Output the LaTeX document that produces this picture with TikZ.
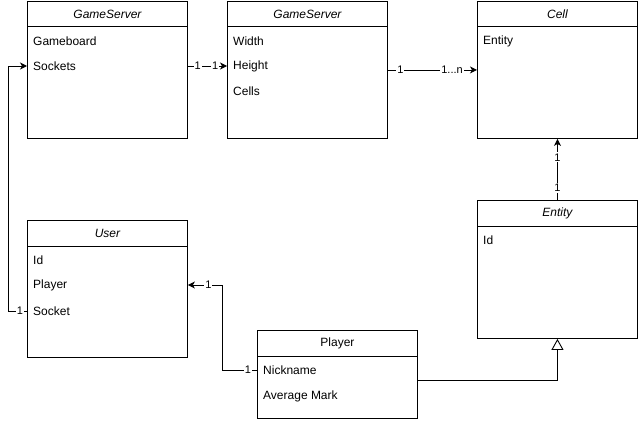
\documentclass[tikz,border=0pt]{standalone}
\usepackage{fontspec}
\setmainfont{Liberation Sans}
\usetikzlibrary{arrows.meta,calc}
\begin{document}
\begin{tikzpicture}[x=1pt,y=-1pt,
  box/.style={draw, line width=0.9pt, inner sep=0, anchor=north west, minimum width=160pt},
  attr/.style={anchor=west, inner sep=0, font=\fontsize{12}{14}\selectfont},
  head/.style={inner sep=0, font=\fontsize{12}{14}\selectfont\itshape},
  headup/.style={inner sep=0, font=\fontsize{12}{14}\selectfont},
  lbl/.style={fill=white, inner sep=1pt, font=\fontsize{11}{13}\selectfont},
  conn/.style={line width=0.9pt},
  arr/.style={conn, -{Stealth[length=7pt,width=7pt,inset=2pt]}},
  inh/.style={conn, -{Triangle[open,length=11pt,width=12pt]}},
  ]
\useasboundingbox (0,0) rectangle (639,420);

% GameServer 1
\node[box, minimum height=137pt] (gs1) at (27,1) {};
\draw[line width=0.9pt] ($(gs1.north west)+(0,25)$) -- ($(gs1.north east)+(0,25)$);
\node[head] (gs1h) at ($(gs1.north)+(0,13)$) {GameServer};
\node[attr] (gs1a) at (33,41) {Gameboard};
\node[attr] (gs1s) at (33,66) {Sockets};

% GameServer 2
\node[box, minimum height=137pt] (gs2) at (227,1) {};
\draw[line width=0.9pt] ($(gs2.north west)+(0,25)$) -- ($(gs2.north east)+(0,25)$);
\node[head] (gs2h) at ($(gs2.north)+(0,13)$) {GameServer};
\node[attr] (gs2w) at (233,41) {Width};
\node[attr] (gs2ht) at (233,66) {Height};
\node[attr] (gs2c) at (233,91) {Cells};

% Cell
\node[box, minimum height=137pt] (cell) at (477,1) {};
\draw[line width=0.9pt] ($(cell.north west)+(0,25)$) -- ($(cell.north east)+(0,25)$);
\node[head] (cellh) at ($(cell.north)+(0,13)$) {Cell};
\node[attr] (celle) at (483,41) {Entity};

% Entity
\node[box, minimum height=138pt] (ent) at (477,200) {};
\draw[line width=0.9pt] ($(ent.north west)+(0,26)$) -- ($(ent.north east)+(0,26)$);
\node[head] (enth) at ($(ent.north)+(0,13)$) {Entity};
\node[attr] (entid) at (483,240) {Id};

% User
\node[box, minimum height=137pt] (user) at (27,220) {};
\draw[line width=0.9pt] ($(user.north west)+(0,26)$) -- ($(user.north east)+(0,26)$);
\node[head] (userh) at ($(user.north)+(0,13)$) {User};
\node[attr] (userid) at (33,260) {Id};
\node[attr] (userp) at (33,285) {Player};
\node[attr] (users) at (33,311) {Socket};

% Player
\node[box, minimum height=88pt] (pl) at (257,330) {};
\draw[line width=0.9pt] ($(pl.north west)+(0,26)$) -- ($(pl.north east)+(0,26)$);
\node[headup] (plh) at ($(pl.north)+(0,13)$) {Player};
\node[attr] (pln) at (263,370) {Nickname};
\node[attr] (plm) at (263,396) {Average Mark};

% connectors
\draw[arr] (gs1.east |- gs1s) -- node[lbl,pos=0.25]{1} node[lbl,pos=0.7]{1} (gs2.west |- gs1s);
\draw[arr] (gs2.east) -- node[lbl,pos=0.14]{1} node[lbl,pos=0.72]{1...n} (cell.west);
\draw[arr] (ent.north) -- node[lbl,pos=0.2]{1} node[lbl,pos=0.7]{1} (cell.south);
\draw[arr] (user.west |- users) -- node[lbl,pos=0.37]{1} ++(-19,0) |- (gs1.west |- gs1s);
\draw[arr] (pl.west |- pln) -- node[lbl,pos=0.26]{1} ++(-35,0) |- node[lbl,pos=0.7]{1} (user.east |- userp);
\draw[inh] ($(pl.east)+(0,6)$) -| (ent.south);
\end{tikzpicture}
\end{document}
